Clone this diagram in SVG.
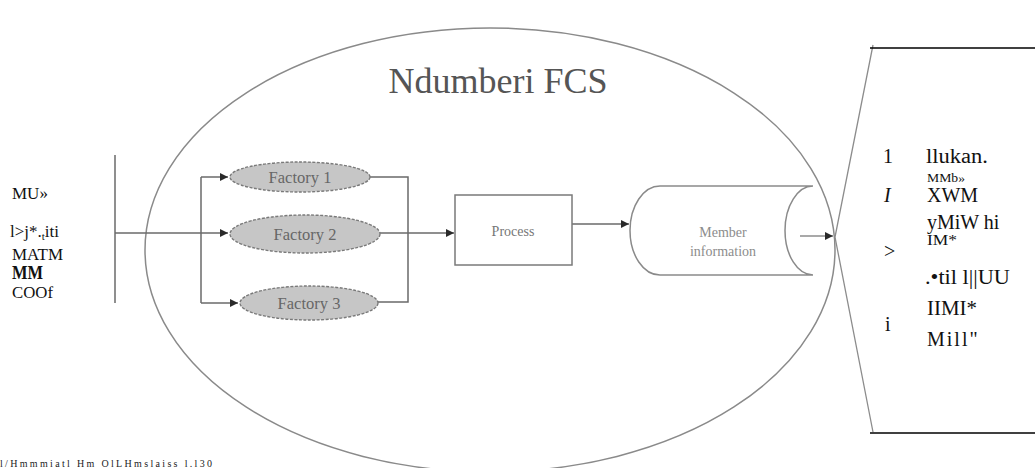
<svg xmlns="http://www.w3.org/2000/svg" width="1035" height="468" viewBox="0 0 1035 468">
  <style>
    .serif { font-family: "Liberation Serif", "Times New Roman", serif; }
    .conn { fill: none; stroke: #6a6a6a; stroke-width: 1.5; }
    .faint { fill: none; stroke: #8c8c8c; stroke-width: 1.3; }
    .factory { fill: #c6c6c6; stroke: #7a7a7a; stroke-width: 1.4; stroke-dasharray: 3 1.5; }
    .flabel { font-size: 16.5px; fill: #666; text-anchor: middle; }
    .side { font-size: 17px; fill: #111; }
    .panel { font-size: 20px; fill: #111; }
  </style>
  <defs>
    <marker id="arrow" viewBox="0 0 10 10" refX="10" refY="5" markerWidth="8" markerHeight="8" markerUnits="userSpaceOnUse" orient="auto">
      <path d="M0,0 L10,5 L0,10 z" fill="#2a2a2a"/>
    </marker>
  </defs>
  <rect width="1035" height="468" fill="#fff"/>

  <!-- society boundary -->
  <g id="boundary">
    <ellipse cx="490" cy="250" rx="345" ry="222" fill="none" stroke="#8a8a8a" stroke-width="1.5"/>
    <text class="serif" x="498" y="93" font-size="36" fill="#555" text-anchor="middle">Ndumberi FCS</text>
  </g>

  <!-- connectors -->
  <g id="connectors">
    <path class="conn" d="M115,155 V303"/>
    <path class="conn" d="M115,233 H228" marker-end="url(#arrow)"/>
    <path class="conn" d="M201,177 V303"/>
    <path class="conn" d="M201,177 H228" marker-end="url(#arrow)"/>
    <path class="conn" d="M201,303 H238" marker-end="url(#arrow)"/>
    <path class="conn" d="M370,177 H408 V302 H378"/>
    <path class="conn" d="M380,233 H454" marker-end="url(#arrow)"/>
    <path class="conn" d="M572,224 H629" marker-end="url(#arrow)"/>
    <path class="faint" d="M800,236 H833" marker-end="url(#arrow)"/>
    <path class="faint" d="M873,45 L835,237 L873,432"/>
  </g>

  <g id="factory1">
    <ellipse class="factory" cx="300" cy="177" rx="70" ry="15"/>
    <text class="serif flabel" x="300" y="183">Factory 1</text>
  </g>
  <g id="factory2">
    <ellipse class="factory" cx="305" cy="234" rx="75" ry="19"/>
    <text class="serif flabel" x="305" y="240">Factory 2</text>
  </g>
  <g id="factory3">
    <ellipse class="factory" cx="309" cy="303" rx="69" ry="17"/>
    <text class="serif flabel" x="309" y="309">Factory 3</text>
  </g>

  <g id="process">
    <rect x="455" y="195" width="117" height="70" fill="#fff" stroke="#7a7a7a" stroke-width="1.5"/>
    <text class="serif" x="513" y="236" font-size="14" fill="#777" text-anchor="middle">Process</text>
  </g>

  <g id="member-information">
    <path d="M660,186 H813 M660,275 H813 M660,186 A30,44.5 0 0 0 660,275 M813,186 A28,44.5 0 0 0 813,275" fill="none" stroke="#8a8a8a" stroke-width="1.5"/>
    <text class="serif" x="723" y="237" font-size="14" fill="#8c8c8c" text-anchor="middle">Member</text>
    <text class="serif" x="723" y="256" font-size="14" fill="#8c8c8c" text-anchor="middle">information</text>
  </g>

  <!-- left-hand labels -->
  <g id="left-labels" class="serif side">
    <text x="12" y="199">MU»</text>
    <text x="10" y="237">l&gt;j*.<tspan font-size="11" dy="3">t</tspan><tspan dy="-3">iti</tspan></text>
    <text x="12" y="260">MATM</text>
    <text x="12" y="279" font-weight="bold" font-size="19" textLength="31" lengthAdjust="spacingAndGlyphs">MM</text>
    <text x="12" y="298" textLength="41" lengthAdjust="spacingAndGlyphs">COOf</text>
  </g>

  <!-- detail panel -->
  <g id="detail-panel">
    <line x1="870" y1="48" x2="1035" y2="48" stroke="#000" stroke-width="1.5"/>
    <line x1="870" y1="433" x2="1035" y2="433" stroke="#000" stroke-width="1.5"/>
    <g class="serif panel">
      <text x="883" y="163">1</text>
      <text x="926" y="163" textLength="62" lengthAdjust="spacingAndGlyphs">llukan.</text>
      <text x="927" y="182" font-size="13" textLength="38" lengthAdjust="spacingAndGlyphs">MMb»</text>
      <text x="884" y="202" font-style="italic">I</text>
      <text x="927" y="202">XWM</text>
      <text x="927" y="229">yMiW hi</text>
      <text x="927" y="245" font-size="14" textLength="30" lengthAdjust="spacingAndGlyphs">IM*</text>
      <text x="884" y="258">&gt;</text>
      <text x="925" y="284" textLength="85" lengthAdjust="spacingAndGlyphs">.•til l||UU</text>
      <text x="927" y="315" textLength="50" lengthAdjust="spacingAndGlyphs">IIMI*</text>
      <text x="885" y="331">i</text>
      <text x="927" y="346" letter-spacing="2">Mill"</text>
    </g>
  </g>

  <text class="serif" x="0" y="467" font-size="10" fill="#222" textLength="212" lengthAdjust="spacing">l/Hmmmiatl Hm OlLHmslaiss l.l30</text>
</svg>
